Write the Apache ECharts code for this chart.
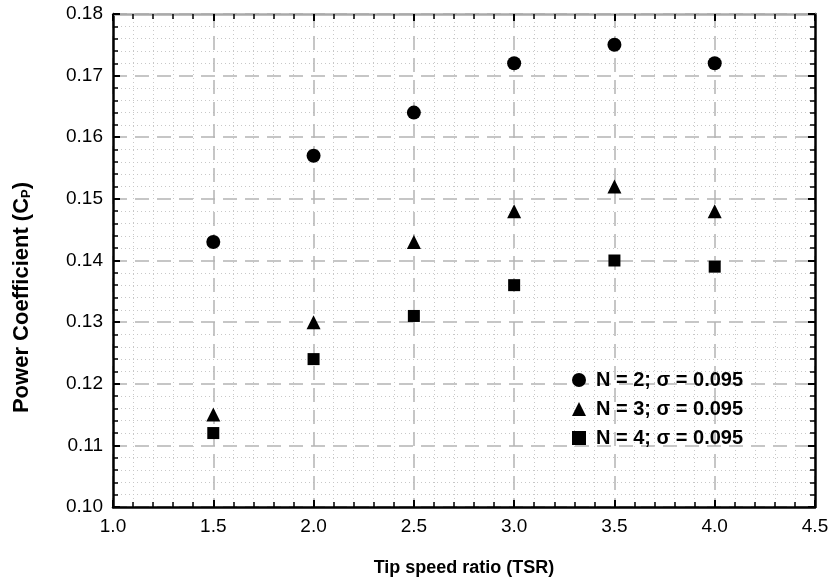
<!DOCTYPE html>
<html>
<head>
<meta charset="utf-8">
<script src="https://cdn.jsdelivr.net/npm/echarts@6/dist/echarts.min.js"></script>
<style>
  html, body { margin: 0; padding: 0; background: #fff; }
  #chart { width: 833px; height: 587px; }
</style>
</head>
<body>
<div id="chart"></div>
<script>
// ------------------------------------------------------------
// Data
// ------------------------------------------------------------
const tsr = [1.5, 2.0, 2.5, 3.0, 3.5, 4.0];
const cpN2 = [0.143, 0.157, 0.164, 0.172, 0.175, 0.172];
const cpN3 = [0.115, 0.130, 0.143, 0.148, 0.152, 0.148];
const cpN4 = [0.112, 0.124, 0.131, 0.136, 0.140, 0.139];
const seriesNames = ["N = 2; σ = 0.095", "N = 3; σ = 0.095", "N = 4; σ = 0.095"];

const pairs = (ys) => tsr.map((x, i) => [x, ys[i]]);

const font = "Liberation Sans, Arial, sans-serif";
const gridDash = { color: "#b4b4b4", width: 1.5, type: [14, 8] };
const gridDot = { color: "#c8c8c8", width: 1, type: [1, 3] };

// top / right frame: no labels, ticks pointing in
const frameAxis = (pos, isX, lineColor) => ({
  type: "value",
  position: pos,
  min: isX ? 1.0 : 0.10,
  max: isX ? 4.5 : 0.18,
  interval: isX ? 0.5 : 0.01,
  axisLine: { show: true, onZero: false, lineStyle: { color: lineColor, width: 2.5 } },
  axisTick: { show: true, inside: true, length: 7, lineStyle: { color: "#000", width: 2 } },
  minorTick: { show: true, splitNumber: 5, length: 5, lineStyle: { color: "#000", width: 1.5 } },
  axisLabel: { show: false },
  splitLine: { show: false },
});

const chart = echarts.init(document.getElementById("chart"));
chart.setOption({
  backgroundColor: "#fff",
  animation: false,
  textStyle: { fontFamily: font },
  grid: { left: 113, right: 18, top: 14, bottom: 80 },
  legend: {
    orient: "vertical",
    left: 567,
    top: 365,
    itemWidth: 14,
    itemHeight: 14,
    itemGap: 9,
    data: [
      { name: seriesNames[0], icon: "circle" },
      { name: seriesNames[1], icon: "triangle" },
      { name: seriesNames[2], icon: "rect" },
    ],
    textStyle: { fontFamily: font, fontSize: 20, fontWeight: "bold", color: "#000", padding: [0, 0, 0, 5] },
  },
  xAxis: [
    {
      type: "value",
      min: 1.0,
      max: 4.5,
      interval: 0.5,
      name: "Tip speed ratio (TSR)",
      nameLocation: "middle",
      nameGap: 52,
      nameTextStyle: { fontFamily: font, fontSize: 18, fontWeight: "bold", color: "#000" },
      axisLine: { show: true, onZero: false, lineStyle: { color: "#000", width: 2.5 } },
      axisTick: { show: true, inside: true, length: 7, lineStyle: { color: "#000", width: 2 } },
      minorTick: { show: true, splitNumber: 5, length: 5, lineStyle: { color: "#000", width: 1.5 } },
      axisLabel: {
        fontFamily: font, fontSize: 19, color: "#000", margin: 10,
        formatter: (v) => v.toFixed(1),
      },
      splitLine: { show: true, lineStyle: gridDash },
      minorSplitLine: { show: true, lineStyle: gridDot },
    },
    frameAxis("top", true, "#aaaaaa"),
  ],
  yAxis: [
    {
      type: "value",
      min: 0.10,
      max: 0.18,
      interval: 0.01,
      name: "{n|Power Coefficient (C}{s|P}{n|)}",
      nameLocation: "middle",
      nameGap: 80,
      nameTextStyle: {
        padding: [0, 74, 0, 0],
        rich: {
          n: { fontFamily: font, fontSize: 22, fontWeight: "bold", color: "#000" },
          s: { fontFamily: font, fontSize: 13, fontWeight: "bold", color: "#000", verticalAlign: "bottom", padding: [10, 0, 0, 0] },
        },
      },
      axisLine: { show: true, onZero: false, lineStyle: { color: "#000", width: 2.5 } },
      axisTick: { show: true, inside: true, length: 7, lineStyle: { color: "#000", width: 2 } },
      minorTick: { show: true, splitNumber: 5, length: 5, lineStyle: { color: "#000", width: 1.5 } },
      axisLabel: {
        fontFamily: font, fontSize: 19, color: "#000", margin: 10,
        formatter: (v) => v.toFixed(2),
      },
      splitLine: { show: true, lineStyle: gridDash },
      minorSplitLine: { show: true, lineStyle: gridDot },
    },
    frameAxis("right", false, "#000"),
  ],
  series: [
    {
      name: seriesNames[0], type: "scatter", symbol: "circle", symbolSize: 14,
      itemStyle: { color: "#000", opacity: 1 }, data: pairs(cpN2),
    },
    {
      name: seriesNames[1], type: "scatter", symbol: "triangle", symbolSize: 14,
      itemStyle: { color: "#000", opacity: 1 }, data: pairs(cpN3),
    },
    {
      name: seriesNames[2], type: "scatter", symbol: "rect", symbolSize: 12,
      itemStyle: { color: "#000", opacity: 1 }, data: pairs(cpN4),
    },
  ],
});
</script>
</body>
</html>
